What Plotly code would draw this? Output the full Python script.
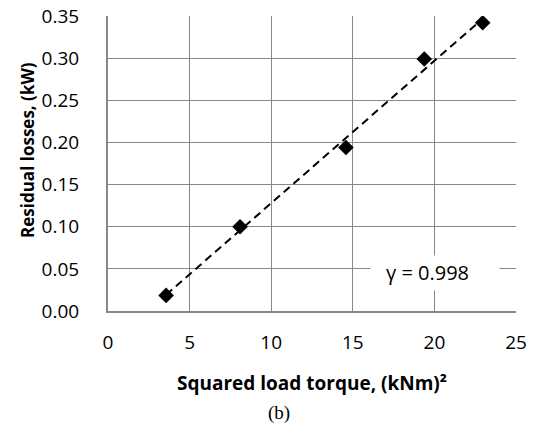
import numpy as np
import plotly.graph_objects as go

# Data
torque_sq = [3.56, 8.09, 14.58, 19.38, 22.96]      # (kNm)^2
residual_losses = [0.0185, 0.100, 0.194, 0.299, 0.342]  # kW
x_ticks = [0, 5, 10, 15, 20, 25]
y_ticks = [0.00, 0.05, 0.10, 0.15, 0.20, 0.25, 0.30, 0.35]
gamma_label = "γ = 0.998"

# Linear trend line (least squares)
slope, intercept = np.polyfit(torque_sq, residual_losses, 1)
trend_x = [min(torque_sq), max(torque_sq)]
trend_y = [slope * v + intercept for v in trend_x]

FONT = "Open Sans"
GRID = "#878787"

fig = go.Figure()
fig.add_trace(go.Scatter(
    x=trend_x, y=trend_y, mode="lines",
    line=dict(color="black", width=2, dash="8px,5px"),
    showlegend=False, hoverinfo="skip"))
fig.add_trace(go.Scatter(
    x=torque_sq, y=residual_losses, mode="markers",
    marker=dict(symbol="diamond", size=12, color="black"),
    showlegend=False))

fig.update_layout(
    width=539, height=423,
    margin=dict(l=108, r=23, t=16, b=112, autoexpand=False),
    paper_bgcolor="white", plot_bgcolor="white",
    font=dict(family=FONT, color="black", size=19),
    xaxis=dict(range=[0, 25], tickvals=x_ticks, showgrid=True,
               gridcolor=GRID, gridwidth=1, zeroline=False,
               showline=True, linecolor=GRID, linewidth=2,
               ticks="", ticklabelstandoff=13, automargin=False,
               tickfont=dict(family=FONT, size=19)),
    yaxis=dict(range=[0, 0.35], tickvals=y_ticks, tickformat=".2f",
               showgrid=True, gridcolor=GRID, gridwidth=1, zeroline=False,
               showline=True, linecolor=GRID, linewidth=2,
               ticks="", ticklabelstandoff=23, automargin=False,
               tickfont=dict(family=FONT, size=19)),
)

# white label box that masks the gridlines, then the label text
fig.add_annotation(
    x=20.04, y=0.0451, xref="x", yref="y", text=" ", showarrow=False,
    bgcolor="white", width=126, height=32, xanchor="center", yanchor="middle")
fig.add_annotation(
    x=19.6, y=0.0451, xref="x", yref="y", text=gamma_label, showarrow=False,
    font=dict(family=FONT, size=20, color="black"),
    xanchor="center", yanchor="middle")

fig.add_annotation(
    x=0.5, y=-0.243, xref="paper", yref="paper",
    text="<b>Squared load torque, (kNm)²</b>", showarrow=False,
    font=dict(family=FONT, size=19), xanchor="center", yanchor="middle")
fig.add_annotation(
    x=-0.196, y=0.546, xref="paper", yref="paper",
    text="<b>Residual losses, (kW)</b>", showarrow=False, textangle=-90,
    font=dict(family=FONT, size=17), xanchor="center", yanchor="middle")
fig.add_annotation(
    x=0.42, y=-0.345, xref="paper", yref="paper", text="(b)", showarrow=False,
    font=dict(family="Liberation Serif", size=19), xanchor="center", yanchor="middle")

fig.write_html("out.html", config={"displayModeBar": False},
               post_script="document.body.style.margin='0';")
